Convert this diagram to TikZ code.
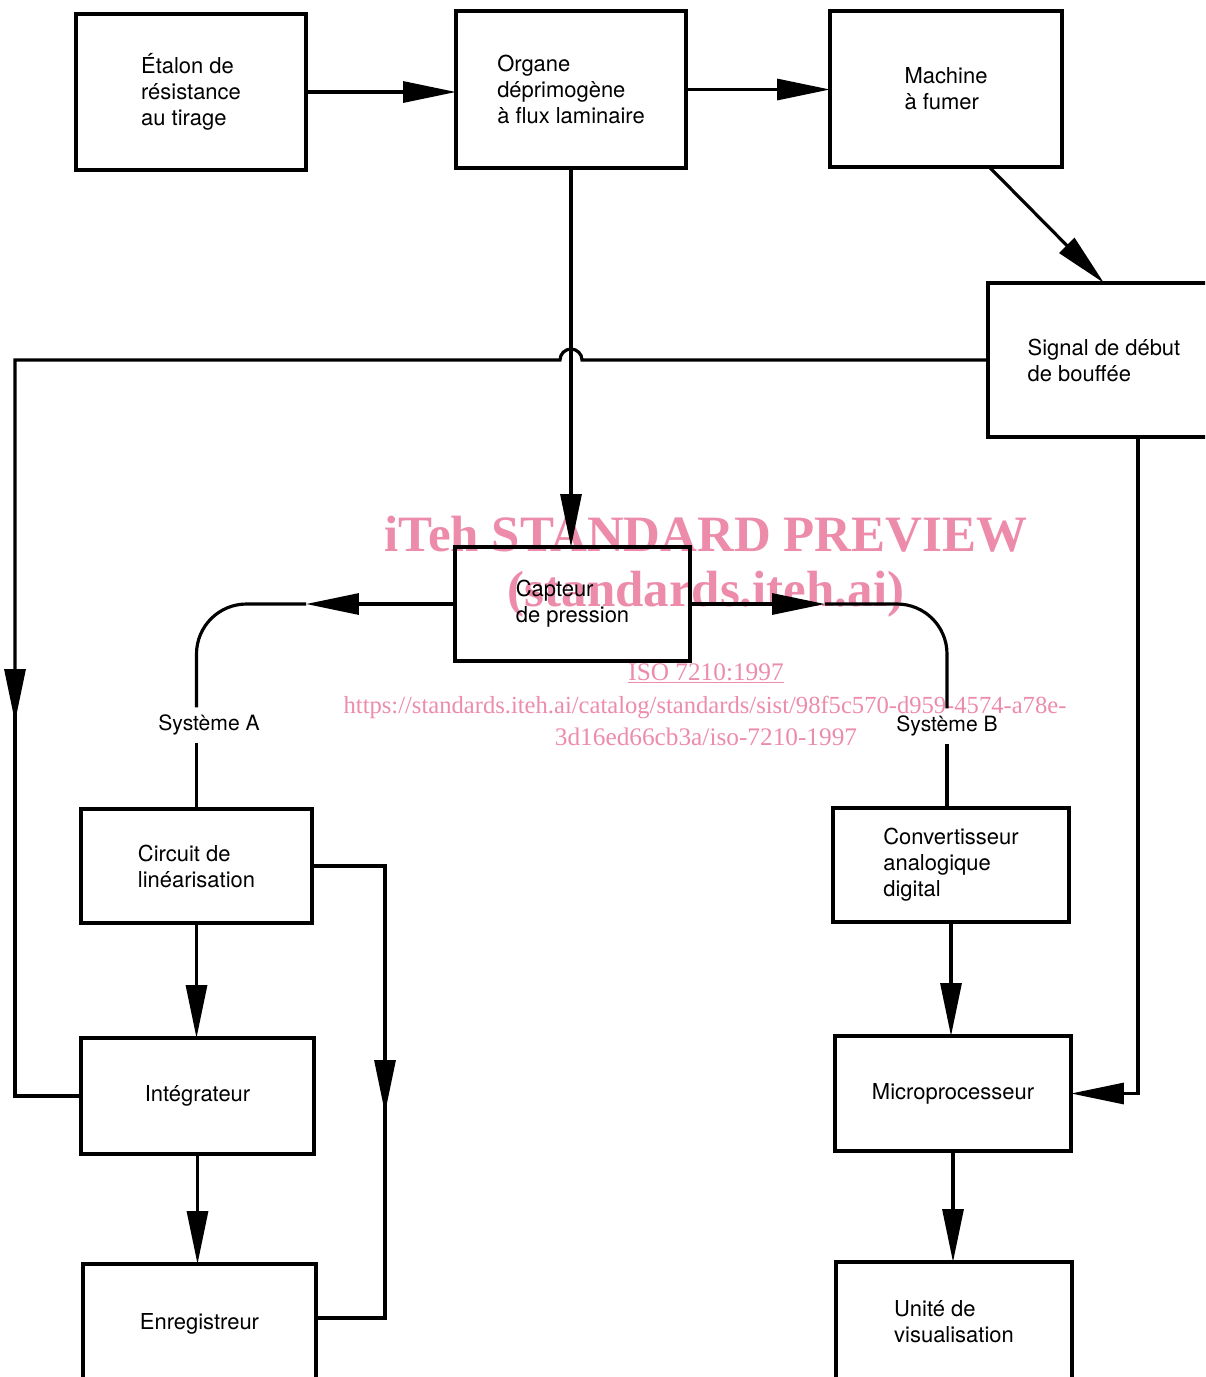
\documentclass[tikz,border=0pt]{standalone}
\usepackage{fontspec}
\setmainfont{TeX Gyre Heros}
\newfontfamily\wmfont{Liberation Serif}
\usetikzlibrary{arrows.meta}
\definecolor{wmpink}{RGB}{236,140,170}

\begin{document}
\begin{tikzpicture}[x=0.02cm,y=-0.02cm,line width=1.8pt,
    box/.style={draw,line width=2.8pt,outer sep=0pt,align=left,
      font=\fontsize{12.5}{14.8}\selectfont},
    lbl/.style={font=\fontsize{12}{14}\selectfont},
    wm/.style={text=wmpink,anchor=base,inner sep=0pt},
    arr/.style={-{Triangle[length=1.06cm,width=0.42cm]}}]
  \useasboundingbox (0,0) rectangle (1205,1377);
  \clip (0,0) rectangle (1205,1377);
  % watermark
  \node[wm,font=\wmfont\bfseries\fontsize{29}{29}\selectfont] (wm1) at (706,551) {iTeh STANDARD PREVIEW};
  \node[wm,font=\wmfont\bfseries\fontsize{29}{29}\selectfont] (wm2) at (706,606) {(standards.iteh.ai)};
  \node[wm,font=\wmfont\fontsize{14.4}{15}\selectfont] (wm3) at (706,680) {\underline{ISO 7210:1997}};
  \node[wm,font=\wmfont\fontsize{14}{15}\selectfont] (wm4) at (705,713) {https://standards.iteh.ai/catalog/standards/sist/98f5c570-d959-4574-a78e-};
  \node[wm,font=\wmfont\fontsize{14.4}{15}\selectfont] (wm5) at (706,745) {3d16ed66cb3a/iso-7210-1997};
  % boxes
  \node[box,minimum width=4.6cm,minimum height=3.12cm] (etalon) at (191,92) {Étalon de\\résistance\\au tirage};
  \node[box,minimum width=4.6cm,minimum height=3.14cm] (organe) at (571,89.5) {Organe\\déprimogène\\à flux laminaire};
  \node[box,minimum width=4.64cm,minimum height=3.12cm] (machine) at (946,89) {Machine\\à fumer};
  \node[box,minimum width=4.64cm,minimum height=3.08cm] (signal) at (1104,360) {Signal de début\\de bouffée};
  \node[box,minimum width=4.7cm,minimum height=2.28cm] (capteur) at (572.5,604) {Capteur\\de pression};
  \node[box,minimum width=4.62cm,minimum height=2.28cm] (circuit) at (196.5,866) {Circuit de\\linéarisation};
  \node[box,minimum width=4.66cm,minimum height=2.32cm] (integ) at (197.5,1096) {Intégrateur};
  \node[box,minimum width=4.66cm,minimum height=2.4cm] (enreg) at (199.5,1324) {Enregistreur};
  \node[box,minimum width=4.72cm,minimum height=2.28cm] (convert) at (951,865) {Convertisseur\\analogique\\digital};
  \node[box,minimum width=4.72cm,minimum height=2.3cm] (micro) at (953,1093.5) {Microprocesseur};
  \node[box,minimum width=4.72cm,minimum height=2.4cm] (unite) at (954,1322) {Unité de\\visualisation};
  % top row
  \draw[arr] (etalon.east) -- (etalon.east -| organe.west);
  \draw[arr] (organe.east) -- (organe.east -| machine.west);
  \draw[arr] (machine.-61) -- (signal.north);
  \draw[arr] (organe.south) -- (organe.south |- capteur.north);
  % puff signal, hopping over the pressure line
  \coordinate (hop) at (571,360);
  \coordinate (lk) at (15,722);
  \draw[arr] (signal.west) -- ([xshift=0.22cm]hop)
    arc[start angle=0,end angle=180,radius=0.22cm] -- (lk |- hop) -- (lk);
  \draw ([yshift=0.3cm]lk) |- (integ.west);
  \draw[arr] ([xshift=0.68cm]signal.south) |- (micro.east);
  % system A
  \coordinate (capA) at (306,604);
  \node[lbl] (sysA) at (209,725) {Système A};
  \draw[arr] (capteur.west) -- (capA);
  \draw[rounded corners=1cm] (capA) -| (circuit.north |- sysA.north);
  \draw (circuit.north |- sysA.south) -- (circuit.north);
  \draw[arr] (circuit.south) -- (circuit.south |- integ.north);
  \draw[arr] (integ.south) -- (integ.south |- enreg.north);
  \coordinate (rk) at (385,1113);
  \draw[arr] (circuit.east) -| (rk);
  \draw ([yshift=0.3cm]rk) |- ([yshift=0.12cm]enreg.east);
  % system B
  \coordinate (capB) at (825,604);
  \node[lbl] (sysB) at (947,726) {Système B};
  \draw[arr] (capteur.east) -- (capB);
  \draw[rounded corners=1cm] (capB) -| (sysB.north);
  \draw (sysB.south) -- (sysB.south |- convert.north);
  \draw[arr] (convert.south) -- (convert.south |- micro.north);
  \draw[arr] (micro.south) -- (micro.south |- unite.north);
\end{tikzpicture}
\end{document}
